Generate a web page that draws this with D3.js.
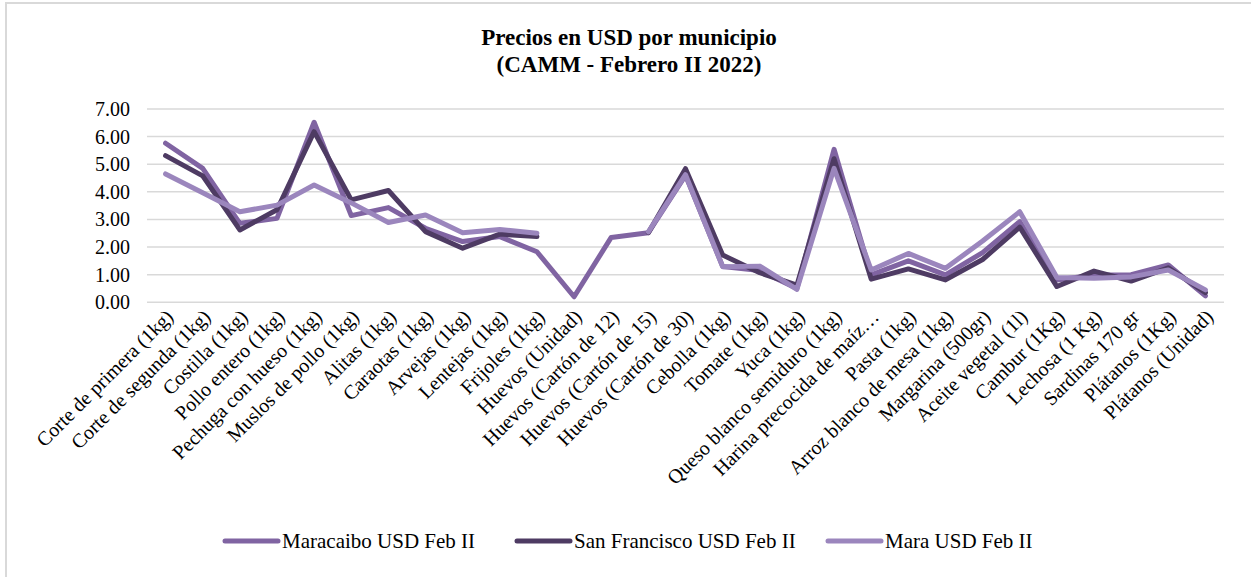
<!DOCTYPE html>
<head>
    <meta charset="utf-8">
    <script src="https://d3js.org/d3.v7.min.js"></script>
    <style>
        body { margin: 0; background: #fff; }
        text { font-family: "Liberation Serif", "DejaVu Serif", serif; fill: #000; }
    </style>
</head>
<body>
<svg width="1251" height="577"></svg>

<script>
    // categories and values
    var categories = ["Corte de primera (1kg)", "Corte de segunda (1kg)", "Costilla (1kg)", "Pollo entero (1kg)",
        "Pechuga con hueso (1kg)", "Muslos de pollo (1kg)", "Alitas (1kg)", "Caraotas (1kg)", "Arvejas (1kg)",
        "Lentejas (1kg)", "Frijoles (1kg)", "Huevos (Unidad)", "Huevos (Cartón de 12)", "Huevos (Cartón de 15)",
        "Huevos (Cartón de 30)", "Cebolla (1kg)", "Tomate (1kg)", "Yuca (1kg)", "Queso blanco semiduro (1kg)",
        "Harina precocida de maíz…", "Pasta (1kg)", "Arroz blanco de mesa (1kg)", "Margarina (500gr)",
        "Aceite vegetal (1l)", "Cambur (1Kg)", "Lechosa (1 Kg)", "Sardinas 170 gr", "Plátanos (1Kg)", "Plátanos (Unidad)"];

    var maracaibo = [5.76, 4.85, 2.86, 3.04, 6.52, 3.14, 3.43, 2.68, 2.2, 2.38, 1.83, 0.2, 2.35, 2.52,
        4.6, 1.3, 1.15, 0.5, 5.54, 0.99, 1.5, 0.99, 1.8, 2.92, 0.81, 0.99, 1.0, 1.35, 0.23];
    var sanFrancisco = [5.31, 4.58, 2.62, 3.35, 6.18, 3.71, 4.05, 2.56, 1.96, 2.47, 2.38, null, null, 2.52,
        4.84, 1.71, 1.07, 0.62, 5.2, 0.84, 1.21, 0.81, 1.55, 2.72, 0.57, 1.13, 0.77, 1.25, 0.35];
    var mara = [4.65, 3.97, 3.28, 3.52, 4.25, 3.6, 2.89, 3.16, 2.52, 2.64, 2.5, null, null, 2.55,
        4.62, 1.29, 1.31, 0.47, 4.85, 1.17, 1.77, 1.23, 2.22, 3.28, 0.9, 0.87, 0.92, 1.17, 0.45];

    var yTicks = [0, 1, 2, 3, 4, 5, 6, 7];

    var series = [
        {name: "Maracaibo USD Feb II", values: maracaibo, color: "#8064a2"},
        {name: "San Francisco USD Feb II", values: sanFrancisco, color: "#4e3b63"},
        {name: "Mara USD Feb II", values: mara, color: "#9b86bd"}
    ];

    var svg = d3.select("svg");

    // chart frame (only top and left edges are visible)
    svg.append("path")
        .attr("d", "M6,578 V3 H1252")
        .attr("fill", "none")
        .attr("stroke", "#d9d9d9")
        .attr("stroke-width", 2);

    // title
    var title = svg.append("text")
        .attr("x", 629)
        .attr("y", 45)
        .attr("text-anchor", "middle")
        .attr("font-size", "23px")
        .attr("font-weight", "bold");
    title.append("tspan").attr("x", 629).text("Precios en USD por municipio");
    title.append("tspan").attr("x", 629).attr("dy", 27).text("(CAMM - Febrero II 2022)");

    var plotLeft = 147, plotRight = 1224, plotTop = 109, plotBottom = 302.3;

    var x = d3.scaleBand()
        .domain(categories)
        .range([plotLeft, plotRight]);

    var y = d3.scaleLinear()
        .domain([0, 7])
        .range([plotBottom, plotTop]);

    // gridlines
    svg.append("g")
        .selectAll("line")
        .data(yTicks)
        .enter()
        .append("line")
        .attr("x1", plotLeft)
        .attr("x2", plotRight)
        .attr("y1", function(d) { return y(d); })
        .attr("y2", function(d) { return y(d); })
        .attr("stroke", "#d9d9d9")
        .attr("stroke-width", 1.5);

    // y axis labels
    svg.append("g")
        .selectAll("text")
        .data(yTicks)
        .enter()
        .append("text")
        .attr("x", 130)
        .attr("y", function(d) { return y(d); })
        .attr("dy", "0.35em")
        .attr("text-anchor", "end")
        .attr("font-size", "20px")
        .text(function(d) { return d3.format(".2f")(d); });

    // x axis labels, rotated
    svg.append("g")
        .selectAll("text")
        .data(categories)
        .enter()
        .append("text")
        .attr("transform", function(d) {
            return "translate(" + (x(d) + x.bandwidth() / 2 + 9) + "," + 318 + ") rotate(-45)";
        })
        .attr("text-anchor", "end")
        .attr("font-size", "20px")
        .text(function(d) { return d; });

    // lines
    var line = d3.line()
        .defined(function(d) { return d != null; })
        .x(function(d, i) { return x(categories[i]) + x.bandwidth() / 2; })
        .y(function(d) { return y(d); });

    svg.append("g")
        .selectAll("path")
        .data(series)
        .enter()
        .append("path")
        .attr("d", function(s) { return line(s.values); })
        .attr("fill", "none")
        .attr("stroke", function(s) { return s.color; })
        .attr("stroke-width", 5)
        .attr("stroke-linejoin", "round")
        .attr("stroke-linecap", "round");

    // legend
    var legendX = [223, 515, 826];
    var legend = svg.append("g")
        .selectAll("g")
        .data(series)
        .enter()
        .append("g")
        .attr("transform", function(d, i) { return "translate(" + legendX[i] + ",541)"; });

    legend.append("line")
        .attr("x1", 2)
        .attr("x2", 55)
        .attr("stroke", function(d) { return d.color; })
        .attr("stroke-width", 5)
        .attr("stroke-linecap", "round");

    legend.append("text")
        .attr("x", 59)
        .attr("dy", "0.35em")
        .attr("font-size", "21px")
        .text(function(d) { return d.name; });
</script>
</body>
